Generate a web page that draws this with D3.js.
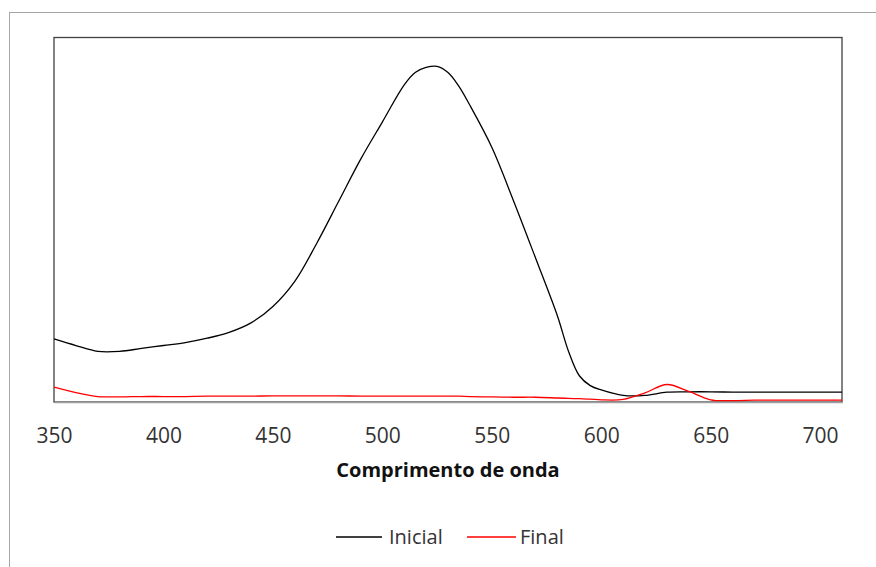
<!DOCTYPE html>
<html><head><meta charset="utf-8">
<script src="https://cdn.jsdelivr.net/npm/d3@7"></script>
<style>body{margin:0;background:#fff}svg{display:block}</style>
</head><body>
<script>
const wavelengths = [350,360,370,380,390,400,410,420,430,440,450,460,470,480,490,500,510,515,520,525,530,535,540,550,560,570,580,585,590,595,600,610,620,630,640,650,660,670,680,690,700,710];
const inicial =     [0.173,0.155,0.139,0.139,0.147,0.155,0.163,0.175,0.191,0.217,0.262,0.331,0.435,0.550,0.665,0.768,0.870,0.904,0.918,0.921,0.904,0.866,0.814,0.699,0.551,0.395,0.236,0.140,0.072,0.045,0.033,0.018,0.018,0.027,0.028,0.028,0.027,0.027,0.027,0.027,0.027,0.027];
const final =       [0.041,0.026,0.015,0.014,0.015,0.015,0.015,0.016,0.016,0.016,0.017,0.017,0.017,0.017,0.016,0.016,0.016,0.016,0.016,0.016,0.016,0.016,0.015,0.014,0.013,0.013,0.011,0.010,0.009,0.008,0.006,0.007,0.025,0.048,0.029,0.006,0.004,0.005,0.005,0.005,0.005,0.005];
const xTicks = [350,400,450,500,550,600,650,700];
const seriesNames = ["Inicial","Final"];
const seriesColors = ["#000000","#ff0000"];
const xTitle = "Comprimento de onda";

const W=876,H=567;
const svg=d3.select("body").append("svg").attr("width",W).attr("height",H);
const font="'Open Sans', sans-serif";
svg.append("rect").attr("x",9.5).attr("y",12.5).attr("width",W).attr("height",H).attr("fill","none").attr("stroke","#a6a6a6").attr("stroke-width",1);

const L=54,R=842,T=37.5,B=402;
const x=d3.scaleLinear().domain([350,710]).range([L,R]);
const y=d3.scaleLinear().domain([0,1]).range([B,T]);

svg.append("rect").attr("x",L).attr("y",T).attr("width",R-L).attr("height",B-T).attr("fill","none").attr("stroke","#404040").attr("stroke-width",1.3);

const ax=svg.append("g").attr("transform",`translate(0,${B})`).call(d3.axisBottom(x).tickValues(xTicks).tickSize(0).tickPadding(26).tickFormat(d3.format("d")));
ax.select(".domain").attr("stroke","#a0a0a0").attr("stroke-width",1.3);
ax.selectAll("text").attr("font-family",font).attr("font-size",21).attr("fill","#333");

const data=[inicial,final];
const line=v=>d3.line().x((d,i)=>x(wavelengths[i])).y(d=>y(d)).curve(d3.curveCatmullRom.alpha(0.5))(v);
data.forEach((v,k)=>{
  svg.append("path").attr("d",line(v)).attr("fill","none").attr("stroke",seriesColors[k]).attr("stroke-width",1.3);
});

svg.append("text").attr("x",(L+R)/2).attr("y",477).attr("text-anchor","middle").attr("font-family",font).attr("font-weight","bold").attr("font-size",20).attr("fill","#111").text(xTitle);

const leg=[{x1:336,x2:382,tx:389},{x1:467,x2:516,tx:520}];
leg.forEach((p,k)=>{
  svg.append("line").attr("x1",p.x1).attr("x2",p.x2).attr("y1",537).attr("y2",537).attr("stroke",seriesColors[k]).attr("stroke-width",1.3);
  svg.append("text").attr("x",p.tx).attr("y",544).attr("font-family",font).attr("font-size",20).attr("fill","#333").text(seriesNames[k]);
});
</script>
</body></html>
